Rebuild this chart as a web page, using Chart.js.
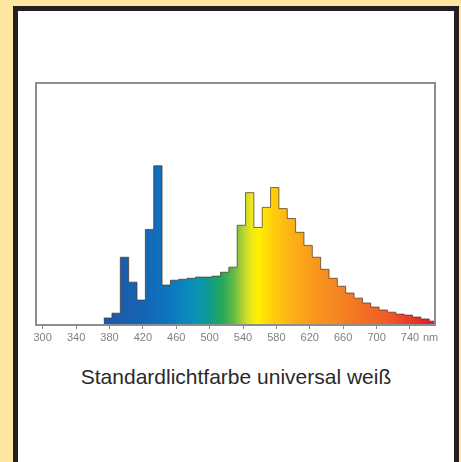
<!DOCTYPE html>
<html>
<head>
<meta charset="utf-8">
<script src="https://cdn.jsdelivr.net/npm/chart.js@4"></script>
<style>
  body { margin: 0; width: 461px; height: 462px; overflow: hidden; position: relative; background: #ffe6a1; font-family: "Liberation Sans", Arial, sans-serif; }
  #frame { position: absolute; left: 13px; top: 6px; width: 436px; height: 470px; border: 5px solid #231f20; background: #fff; }
  #wrap { position: absolute; left: 0; top: 0; }
  #caption { position: absolute; left: 18px; width: 436px; top: 365px; line-height: 24px; text-align: center; font-size: 21px; color: #2a2a2a; }
</style>
</head>
<body>
<div id="frame"></div>
<div id="wrap"><canvas id="spectrum-chart" width="461" height="350"></canvas></div>
<div id="caption"></div>
<script>
// 10 nm bins, start wavelength of each bin (nm)
const binStart = [
  373, 383, 393, 403, 413, 423, 433, 443, 453, 463,
  473, 483, 493, 503, 513, 523, 533, 543, 553, 563,
  573, 583, 593, 603, 613, 623, 633, 643, 653, 663,
  673, 683, 693, 703, 713, 723, 733, 743, 753, 763,
];
const binEnd = 773;

// relative intensity per bin (peak scale = 100)
const intensity = [
  2.9, 4.9, 28.0, 17.7, 10.3, 39.5, 65.8, 16.5, 18.5, 18.9,
  19.3, 19.8, 19.8, 20.2, 21.8, 23.9, 41.2, 54.7, 40.3, 48.6,
  56.8, 48.1, 44.0, 38.3, 32.9, 28.0, 23.0, 19.3, 16.0, 13.2,
  11.1, 9.1, 7.4, 6.2, 5.3, 4.5, 4.1, 3.3, 2.5, 1.6,
];

const tickValues = [300, 340, 380, 420, 460, 500, 540, 580, 620, 660, 700, 740];
const axisUnit = 'nm';
const caption = 'Standardlichtfarbe universal weiß';

// wavelength -> colour used for the fill
const spectrumStops = [
  [373, '#1d58a6'],
  [420, '#1565b4'],
  [445, '#0e72bd'],
  [465, '#0a82c0'],
  [485, '#0893b4'],
  [500, '#0f9c8e'],
  [515, '#25a85a'],
  [528, '#5db847'],
  [540, '#b5d334'],
  [550, '#efe71a'],
  [558, '#fff200'],
  [575, '#ffcf0b'],
  [600, '#fcaf17'],
  [630, '#f7941d'],
  [670, '#f37a22'],
  [710, '#f15e26'],
  [745, '#ec3526'],
  [770, '#e5122c'],
];

document.getElementById('caption').textContent = caption;

function spectrumFill(context) {
  const chart = context.chart;
  const area = chart.chartArea;
  if (!area) return null;
  const x = chart.scales.x;
  const g = chart.ctx.createLinearGradient(area.left, 0, area.right, 0);
  spectrumStops.forEach(([nm, color]) => {
    const p = (x.getPixelForValue(nm) - area.left) / (area.right - area.left);
    g.addColorStop(Math.min(1, Math.max(0, p)), color);
  });
  return g;
}

const points = binStart.map((w, i) => ({ x: w, y: intensity[i] }));
points.push({ x: binEnd, y: intensity[intensity.length - 1] });

const boxPlugin = {
  id: 'box',
  afterDraw(chart) {
    const { ctx, chartArea: a, scales: { x } } = chart;
    ctx.save();
    ctx.strokeStyle = '#8d8d8d';
    ctx.lineWidth = 2;
    ctx.strokeRect(a.left, a.top, a.right - a.left, a.bottom - a.top);
    ctx.fillStyle = '#808080';
    ctx.font = '11px "Liberation Sans", Arial, sans-serif';
    ctx.textAlign = 'left';
    ctx.textBaseline = 'middle';
    ctx.fillText(axisUnit, x.getPixelForValue(tickValues[tickValues.length - 1]) + 13, a.bottom + 13);
    ctx.restore();
  },
};

new Chart(document.getElementById('spectrum-chart'), {
  type: 'line',
  data: {
    datasets: [
      {
        data: points,
        stepped: 'before',
        fill: 'origin',
        backgroundColor: spectrumFill,
        borderColor: 'rgba(75, 50, 30, 0.7)',
        borderWidth: 1,
        pointRadius: 0,
      },
    ],
  },
  options: {
    responsive: false,
    animation: false,
    layout: { padding: { left: 36, top: 83, right: 26, bottom: 0 } },
    plugins: { legend: { display: false }, tooltip: { enabled: false } },
    scales: {
      x: {
        type: 'linear',
        min: 292,
        max: 770,
        afterBuildTicks: (s) => { s.ticks = tickValues.map((v) => ({ value: v })); },
        afterFit: (s) => { s.height = 25; },
        border: { display: false },
        grid: { drawOnChartArea: false, drawTicks: true, tickLength: 4, color: '#8a8a8a' },
        ticks: {
          autoSkip: false,
          maxRotation: 0,
          padding: 2,
          color: '#808080',
          font: { size: 11, family: '"Liberation Sans", Arial, sans-serif' },
        },
      },
      y: { display: false, min: 0, max: 100 },
    },
  },
  plugins: [boxPlugin],
});
</script>
</body>
</html>
